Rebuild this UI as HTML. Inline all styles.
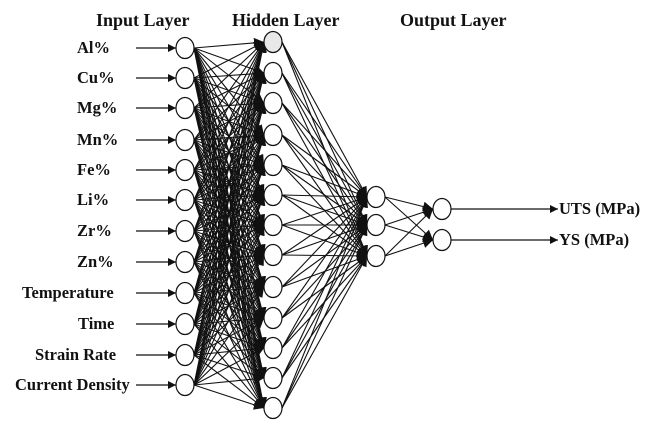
<!DOCTYPE html>
<html><head><style>
body{margin:0;background:#fff;}
svg text{font-family:"Liberation Serif",serif;font-weight:bold;font-size:16.5px;fill:#111;}
svg text.h{font-size:18px;}
</style></head><body>
<svg id="s" width="650" height="430" xmlns="http://www.w3.org/2000/svg">
<defs><marker id="a" viewBox="0 0 10 10" refX="10" refY="5" markerWidth="8" markerHeight="8" markerUnits="userSpaceOnUse" orient="auto"><path d="M0,0L10,5L0,10z" fill="#111"/></marker>
<marker id="b" viewBox="0 0 10 10" refX="10" refY="5" markerWidth="10" markerHeight="10" markerUnits="userSpaceOnUse" orient="auto"><path d="M0,0L10,5L0,10z" fill="#111"/></marker></defs>
<text class="h" x="96" y="26">Input Layer</text>
<text class="h" x="232" y="26">Hidden Layer</text>
<text class="h" x="400" y="26">Output Layer</text>
<g id="g"></g>
</svg>
<script>
var g=document.getElementById('g'),ns="http://www.w3.org/2000/svg";
function el(t,a,txt){var e=document.createElementNS(ns,t);for(var k in a)e.setAttribute(k,a[k]);if(txt)e.textContent=txt;g.appendChild(e);return e;}
var inY=[48,78,108,140,170,200,231,262,293,324,355,385];
var lab=[["Al%",77],["Cu%",77],["Mg%",77],["Mn%",77],["Fe%",77],["Li%",77],["Zr%",77],["Zn%",77],["Temperature",22],["Time",78],["Strain Rate",35],["Current Density",15]];
var hY=[42,73,103,135,165,195,225,255,287,318,348,378,408];
var h2=[197,225,256],oY=[209,240];
var ix=185,hx=273,h2x=376,ox=442,rx=9,ry=10.5;
inY.forEach(function(y,i){
 el('text',{x:lab[i][1],y:y+5},lab[i][0]);
 el('line',{x1:136,y1:y,x2:ix-rx,y2:y,stroke:'#111','stroke-width':1.3,'marker-end':'url(#a)'});
 hY.forEach(function(h){el('line',{x1:ix+rx,y1:y,x2:hx-rx,y2:h,stroke:'#111','stroke-width':1.1,'marker-end':'url(#b)'});});
});
hY.forEach(function(h){h2.forEach(function(y){el('line',{x1:hx+rx,y1:h,x2:h2x-rx,y2:y,stroke:'#111','stroke-width':1.1,'marker-end':'url(#b)'});});});
h2.forEach(function(y){oY.forEach(function(o){el('line',{x1:h2x+rx,y1:y,x2:ox-rx,y2:o,stroke:'#111','stroke-width':1.1,'marker-end':'url(#b)'});});});
oY.forEach(function(o,i){el('line',{x1:ox+rx,y1:o,x2:558,y2:o,stroke:'#111','stroke-width':1.3,'marker-end':'url(#a)'});
 el('text',{x:559,y:o+5},["UTS (MPa)","YS (MPa)"][i]);});
inY.forEach(function(y){el('ellipse',{cx:ix,cy:y,rx:rx,ry:ry,fill:'#fff',stroke:'#111','stroke-width':1.2});});
hY.forEach(function(y,i){el('ellipse',{cx:hx,cy:y,rx:rx,ry:ry,fill:i==0?'#e8e8e8':'#fff',stroke:'#111','stroke-width':1.2});});
h2.forEach(function(y){el('ellipse',{cx:h2x,cy:y,rx:rx,ry:ry,fill:'#fff',stroke:'#111','stroke-width':1.2});});
oY.forEach(function(y){el('ellipse',{cx:ox,cy:y,rx:rx,ry:ry,fill:'#fff',stroke:'#111','stroke-width':1.2});});
</script>
</body></html>
